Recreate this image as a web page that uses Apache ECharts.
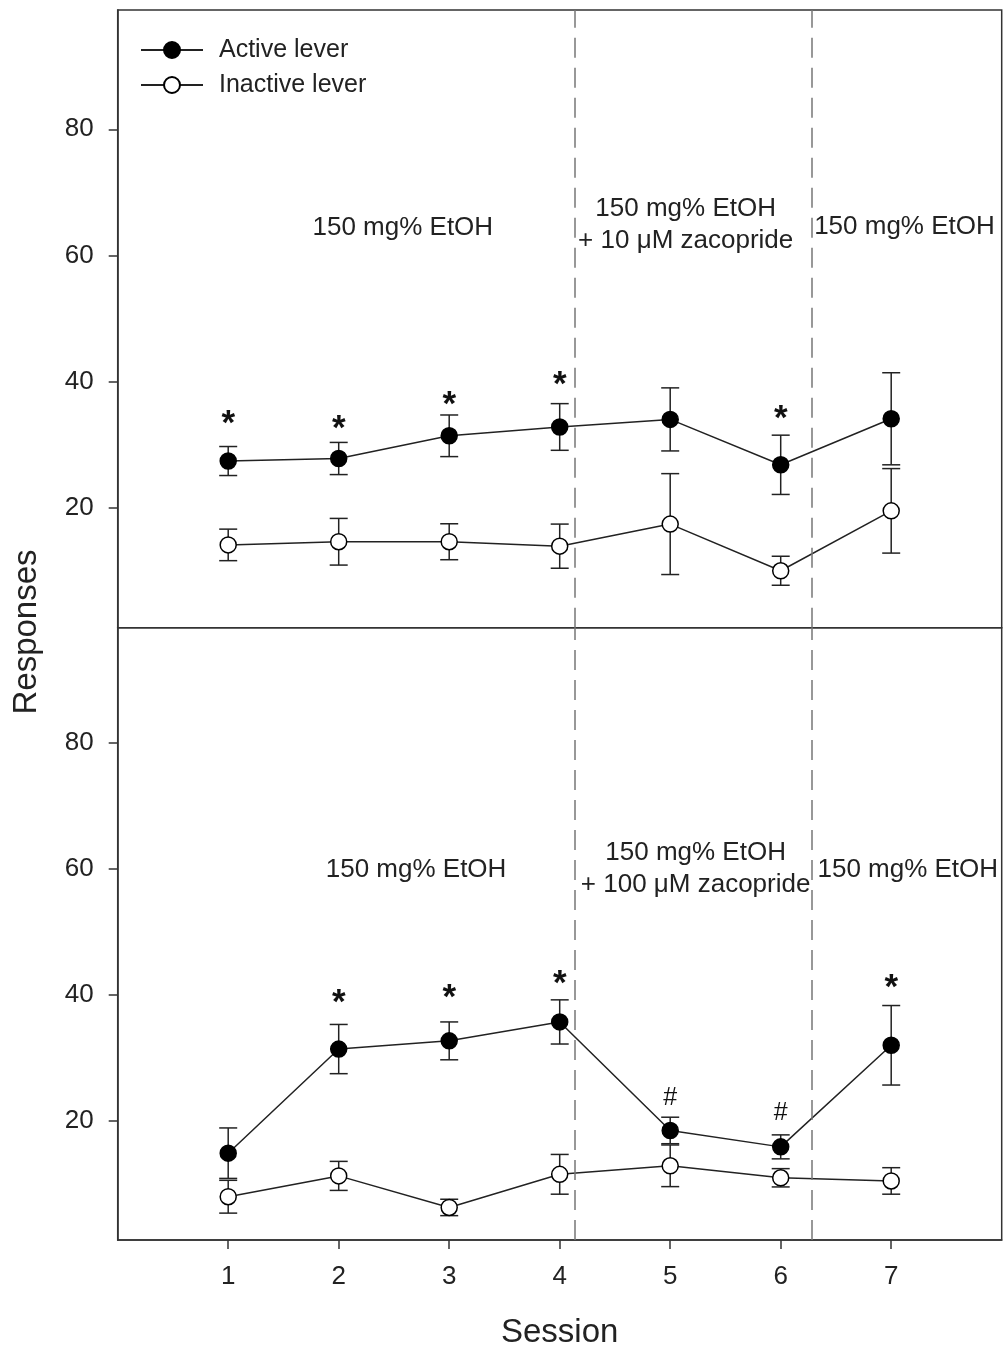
<!DOCTYPE html>
<html>
<head>
<meta charset="utf-8">
<script src="https://cdn.jsdelivr.net/npm/echarts@6/dist/echarts.min.js"></script>
<style>
html,body{margin:0;padding:0;background:#fff;}
#chart{width:1007px;height:1351px;}
</style>
</head>
<body>
<div id="chart"></div>
<script>
// ---- data ----
const sessions = [1, 2, 3, 4, 5, 6, 7];
const sessionTicks = [1, 2, 3, 4, 5, 6, 7];
const yTicks = [20, 40, 60, 80];

const topActive = [27.4, 27.8, 31.4, 32.8, 34.0, 26.8, 34.1];
const topActiveSem = [2.3, 2.55, 3.3, 3.7, 5.0, 4.7, 7.3];
const topInactive = [14.1, 14.6, 14.6, 13.9, 17.4, 10.0, 19.5];
const topInactiveSem = [2.5, 3.7, 2.85, 3.5, 8.0, 2.3, 6.7];

const botActive = [14.9, 31.4, 32.7, 35.7, 18.5, 15.9, 32.0];
const botActiveSem = [4.0, 3.9, 3.0, 3.5, 2.1, 1.9, 6.3];
const botInactive = [8.0, 11.3, 6.3, 11.55, 12.9, 11.0, 10.5];
const botInactiveSem = [2.6, 2.3, 1.3, 3.15, 3.3, 1.45, 2.1];

// significance marks: [session, symbol, y]
const topMarks = [[1, '*', 34.7], [2, '*', 33.9], [3, '*', 37.7], [4, '*', 40.8], [6, '*', 35.5]];
const botMarks = [[2, '*', 40.0], [3, '*', 40.8], [4, '*', 43.1], [5, '#', 23.6], [6, '#', 21.3], [7, '*', 42.5]];

// phase boundaries and labels
const phaseBounds = [4.14, 6.28];
const topPhases = [[2.58, 64.4, '150 mg% EtOH'], [5.14, 64.8, '150 mg% EtOH\n+ 10 \u03bcM zacopride'], [7.12, 64.6, '150 mg% EtOH']];
const botPhases = [[2.70, 59.8, '150 mg% EtOH'], [5.23, 60.0, '150 mg% EtOH\n+ 100 \u03bcM zacopride'], [7.15, 59.8, '150 mg% EtOH']];

// ---- chart ----
const FONT = "'Liberation Sans', Arial, sans-serif";
const INK = '#222';

function pairs(xs, ys) { return xs.map((x, i) => [x, ys[i]]); }
function errData(xs, ys, es) { return xs.map((x, i) => [x, ys[i], es[i]]); }

function errorSeries(idx, data) {
  return {
    type: 'custom', xAxisIndex: idx, yAxisIndex: idx, z: 2, silent: true,
    data: data,
    renderItem: function (params, api) {
      const x = api.value(0), y = api.value(1), e = api.value(2);
      const t = api.coord([x, y + e]);
      const b = api.coord([x, y - e]);
      const hw = 9;
      const st = { stroke: INK, lineWidth: 1.5 };
      return {
        type: 'group',
        children: [
          { type: 'line', shape: { x1: t[0], y1: t[1], x2: b[0], y2: b[1] }, style: st },
          { type: 'line', shape: { x1: t[0] - hw, y1: t[1], x2: t[0] + hw, y2: t[1] }, style: st },
          { type: 'line', shape: { x1: b[0] - hw, y1: b[1], x2: b[0] + hw, y2: b[1] }, style: st }
        ]
      };
    }
  };
}

function markSeries(idx, data) {
  return {
    type: 'custom', xAxisIndex: idx, yAxisIndex: idx, z: 5, silent: true,
    data: data.map(d => [d[0], d[2], d[1]]),
    renderItem: function (params, api) {
      const d = data[params.dataIndex];
      const p = api.coord([d[0], d[2]]);
      const star = d[1] === '*';
      return {
        type: 'text', x: p[0], y: p[1] + (star ? 9 : 0),
        style: {
          text: d[1], fill: '#111',
          font: (star ? 'bold 35px ' : '25px ') + FONT,
          align: 'center', verticalAlign: 'middle',
          textAlign: 'center', textVerticalAlign: 'middle'
        }
      };
    }
  };
}

function phaseSeries(idx, data) {
  return {
    type: 'custom', xAxisIndex: idx, yAxisIndex: idx, z: 4, silent: true,
    data: data.map(d => [d[0], d[1]]),
    renderItem: function (params, api) {
      const d = data[params.dataIndex];
      const p = api.coord([d[0], d[1]]);
      return {
        type: 'text', x: p[0], y: p[1],
        style: {
          text: d[2], fill: INK, font: '26px ' + FONT, lineHeight: 32,
          align: 'center', verticalAlign: 'middle',
          textAlign: 'center', textVerticalAlign: 'middle'
        }
      };
    }
  };
}

function lineSeries(idx, name, ys, filled, withBounds) {
  const s = {
    type: 'line', name: name, xAxisIndex: idx, yAxisIndex: idx, z: 3,
    data: pairs(sessions, ys),
    symbol: 'circle', symbolSize: 16,
    lineStyle: { color: INK, width: 1.5 },
    itemStyle: { color: filled ? '#000' : '#fff', borderColor: '#000', borderWidth: 1.5 },
    emphasis: { disabled: true },
    animation: false
  };
  if (withBounds) {
    s.markLine = {
      silent: true, symbol: 'none', label: { show: false },
      lineStyle: { color: '#777', width: 1.5, type: [20, 10] },
      data: phaseBounds.map(v => ({ xAxis: v }))
    };
  }
  return s;
}

const yAxisCommon = {
  type: 'value',
  axisLine: { show: true, lineStyle: { color: '#333', width: 1.5 } },
  axisTick: { show: true, inside: false, length: 9, customValues: yTicks, lineStyle: { color: '#333', width: 1.5 } },
  axisLabel: { customValues: yTicks, fontSize: 26, color: INK, fontFamily: FONT, margin: 24 },
  splitLine: { show: false }
};

const chart = echarts.init(document.getElementById('chart'), null, { renderer: 'canvas' });
chart.setOption({
  animation: false,
  backgroundColor: '#fff',
  grid: [
    { left: 117.7, right: 5.3, top: 10, height: 617.7, show: true, borderColor: '#333', borderWidth: 1.5, backgroundColor: 'transparent' },
    { left: 117.7, right: 5.3, top: 627.7, height: 612.3, show: true, borderColor: '#333', borderWidth: 1.5, backgroundColor: 'transparent' }
  ],
  legend: {
    left: 140, top: 37, padding: 0, orient: 'vertical', itemWidth: 62, itemHeight: 20, itemGap: 9,
    data: ['Active lever', 'Inactive lever'],
    textStyle: { fontSize: 25, color: INK, fontFamily: FONT, lineHeight: 26, padding: [0, 0, 0, 11] },
    selectedMode: false
  },
  xAxis: [
    { type: 'value', gridIndex: 0, min: 0, max: 8, show: false, splitLine: { show: false } },
    {
      type: 'value', gridIndex: 1, min: 0, max: 8,
      axisLine: { show: true, lineStyle: { color: '#333', width: 1.5 } },
      axisTick: { show: true, length: 9, customValues: sessionTicks, lineStyle: { color: '#333', width: 1.5 } },
      axisLabel: { customValues: sessionTicks, fontSize: 26, color: INK, fontFamily: FONT, margin: 24 },
      splitLine: { show: false },
      name: 'Session', nameLocation: 'middle', nameGap: 76,
      nameTextStyle: { fontSize: 33, color: INK, fontFamily: FONT }
    }
  ],
  yAxis: [
    Object.assign({ gridIndex: 0, min: 0.97, max: 98.92 }, yAxisCommon),
    Object.assign({ gridIndex: 1, min: 1.14, max: 98.18 }, yAxisCommon)
  ],
  graphic: [
    {
      type: 'text', x: 27, y: 632, rotation: Math.PI / 2,
      style: { text: 'Responses', font: '33px ' + FONT, fill: INK, align: 'center', verticalAlign: 'middle', textAlign: 'center', textVerticalAlign: 'middle' }
    }
  ],
  series: [
    errorSeries(0, errData(sessions, topActive, topActiveSem)),
    errorSeries(0, errData(sessions, topInactive, topInactiveSem)),
    errorSeries(1, errData(sessions, botActive, botActiveSem)),
    errorSeries(1, errData(sessions, botInactive, botInactiveSem)),
    lineSeries(0, 'Active lever', topActive, true, true),
    lineSeries(0, 'Inactive lever', topInactive, false, false),
    lineSeries(1, 'Active lever', botActive, true, true),
    lineSeries(1, 'Inactive lever', botInactive, false, false),
    markSeries(0, topMarks),
    markSeries(1, botMarks),
    phaseSeries(0, topPhases),
    phaseSeries(1, botPhases)
  ]
});
</script>
</body>
</html>
